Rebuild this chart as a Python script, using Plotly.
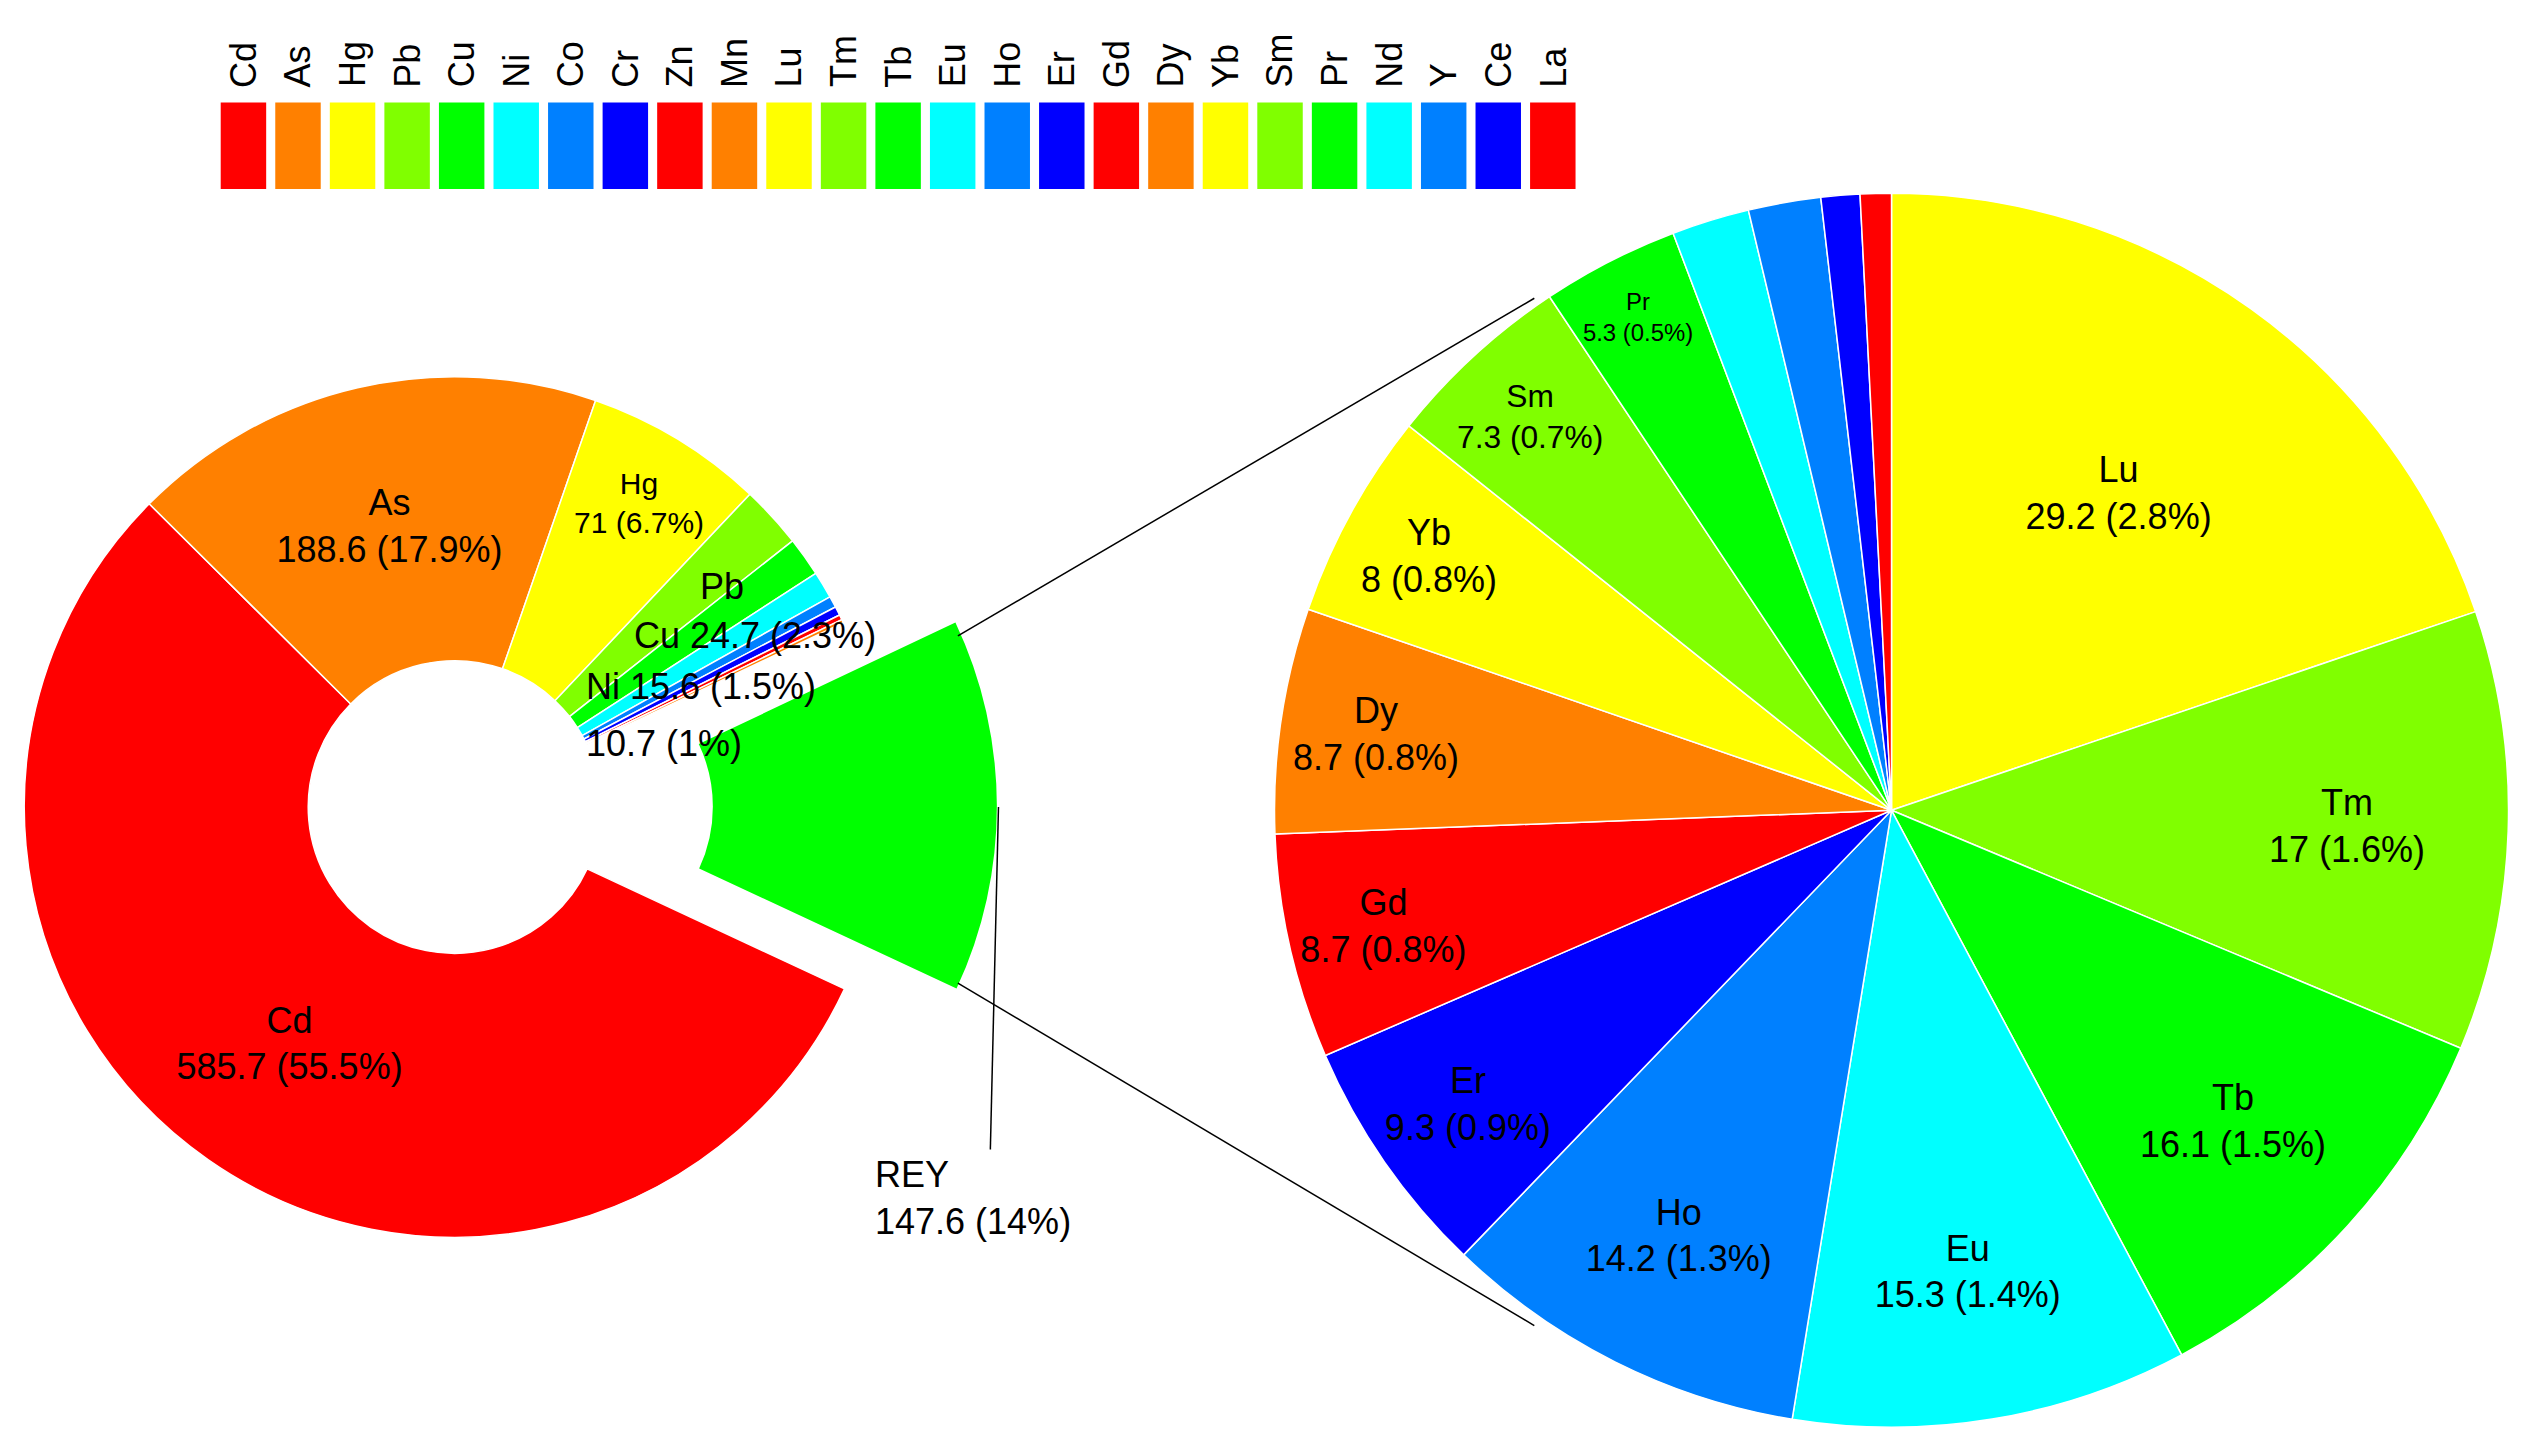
import math
import plotly.graph_objects as go

W, H = 2546, 1435
SX, SY = 1568.0, 880.0  # design coords

metals = ["Cd", "As", "Hg", "Pb", "Cu", "Ni", "Co", "Cr", "Zn", "Mn", "REY"]
metal_vals = [585.7, 188.6, 71, 24.7, 15.6, 10.7, 4.5, 3.5, 2.0, 1.4, 147.6]
metal_cols = ["#FF0000", "#FF8000", "#FFFF00", "#80FF00", "#00FF00", "#00FFFF",
              "#0080FF", "#0000FF", "#FF0000", "#FF8000", "#00FF00"]

rey = ["Lu", "Tm", "Tb", "Eu", "Ho", "Er", "Gd", "Dy", "Yb", "Sm", "Pr", "Nd", "Y", "Ce", "La"]
rey_vals = [29.2, 17, 16.1, 15.3, 14.2, 9.3, 8.7, 8.7, 8, 7.3, 5.3, 3.0, 2.8, 1.5, 1.2]
rey_cols = ["#FFFF00", "#80FF00", "#00FF00", "#00FFFF", "#0080FF", "#0000FF", "#FF0000",
            "#FF8000", "#FFFF00", "#80FF00", "#00FF00", "#00FFFF", "#0080FF", "#0000FF", "#FF0000"]

legend_names = ["Cd", "As", "Hg", "Pb", "Cu", "Ni", "Co", "Cr", "Zn", "Mn", "Lu", "Tm", "Tb", "Eu",
                "Ho", "Er", "Gd", "Dy", "Yb", "Sm", "Pr", "Nd", "Y", "Ce", "La"]
legend_cols = metal_cols[:10] + rey_cols

total = sum(metal_vals)


def pct(v):
    p = round(v / total * 100, 1)
    return (f"{p:.1f}".rstrip("0").rstrip(".")) + "%"


def px(X):
    return X / SX


def py(Y):
    return 1 - Y / SY


FS = 36
FONT = dict(size=FS, color="black", family="Liberation Sans")
left_text = [f"{n}<br>{v:g} ({pct(v)})" if n in ("Cd", "As", "Hg") else ""
             for n, v in zip(metals, metal_vals)]
right_text = [f"{n}<br>{v:g} ({pct(v)})" if v >= 5 else "" for n, v in zip(rey, rey_vals)]

fig = go.Figure()
r1, rot, pull_px = 265, 115, 69
cx, cy = 275, 490
# base donut (REY slice transparent)
base_cols = metal_cols[:10] + ["rgba(0,0,0,0)"]
fig.add_trace(go.Pie(
    labels=metals, values=metal_vals, sort=False, direction="clockwise", rotation=rot,
    hole=0.34, text=left_text, textinfo="text",
    textposition="inside", insidetextorientation="horizontal", textfont=FONT,
    marker=dict(colors=base_cols, line=dict(color=["white"] * 10 + ["rgba(0,0,0,0)"], width=1.5)),
    domain=dict(x=[px(cx - r1), px(cx + r1)], y=[py(cy + r1), py(cy - r1)]),
    hoverinfo="skip", showlegend=False))

# exploded REY slice: same donut, shifted along slice bisector
frac_before = sum(metal_vals[:10]) / total
mid = math.radians(rot + (frac_before + metal_vals[10] / total / 2) * 360)
dx, dy = pull_px * math.sin(mid), -pull_px * math.cos(mid)
rey_only = ["rgba(0,0,0,0)"] * 10 + [metal_cols[10]]
fig.add_trace(go.Pie(
    labels=metals, values=metal_vals, sort=False, direction="clockwise", rotation=rot,
    hole=0.34, textinfo="none",
    marker=dict(colors=rey_only, line=dict(width=0)),
    domain=dict(x=[px(cx + dx - r1), px(cx + dx + r1)], y=[py(cy + dy + r1), py(cy + dy - r1)]),
    hoverinfo="skip", showlegend=False))

r2 = 380
fig.add_trace(go.Pie(
    labels=rey, values=rey_vals, sort=False, direction="clockwise", rotation=0,
    text=right_text, textinfo="text", textposition="inside", insidetextorientation="horizontal",
    textfont=FONT,
    marker=dict(colors=rey_cols, line=dict(color="white", width=1.5)),
    domain=dict(x=[px(1160 - r2), px(1160 + r2)], y=[py(492 + r2), py(492 - r2)]),
    hoverinfo="skip", showlegend=False))

shapes = []
ann = []
x0, bw, step = 131, 28, 33.6
for i, (n, c) in enumerate(zip(legend_names, legend_cols)):
    xl = x0 + i * step
    shapes.append(dict(type="rect", xref="paper", yref="paper", x0=px(xl), x1=px(xl + bw),
                       y0=py(111), y1=py(58), fillcolor=c, line=dict(width=0)))
    ann.append(dict(text=n, xref="paper", yref="paper", x=px(xl + bw / 2), y=py(50),
                    xanchor="center", yanchor="bottom", textangle=-90, showarrow=False, font=FONT))

for (a, b, c, d) in [(585, 385, 940, 178), (585, 598, 940, 808), (610, 490, 605, 700)]:
    shapes.append(dict(type="line", xref="paper", yref="paper", x0=px(a), y0=py(b), x1=px(c), y1=py(d),
                       line=dict(color="black", width=1.5)))


def label(t, X, Y):
    ann.append(dict(text=t, xref="paper", yref="paper", x=px(X), y=py(Y), xanchor="left",
                    yanchor="middle", showarrow=False, align="left", font=FONT))


label(f"REY<br>{metal_vals[10]:g} ({pct(metal_vals[10])})", 533, 730)
label(metals[3], 425, 355)
label(f"{metals[4]} {metal_vals[3]:g} ({pct(metal_vals[3])})", 384, 385)
label(f"{metals[5]} {metal_vals[4]:g} ({pct(metal_vals[4])})", 355, 416)
label(f"{metal_vals[5]:g} ({pct(metal_vals[5])})", 355, 451)

fig.update_layout(width=W, height=H, margin=dict(l=0, r=0, t=0, b=0),
                  paper_bgcolor="white", plot_bgcolor="white",
                  shapes=shapes, annotations=ann, font=dict(family="Liberation Sans"))
fig.write_html("out.html")
